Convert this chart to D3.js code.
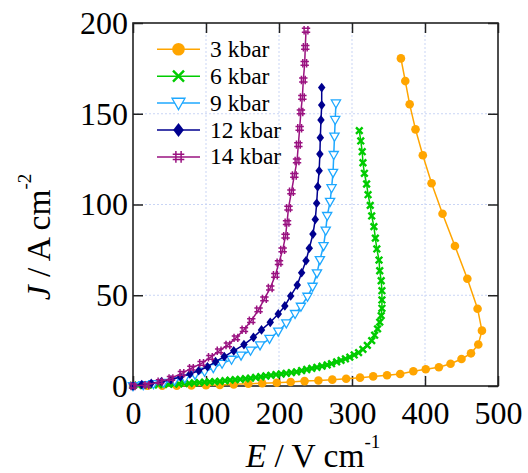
<!DOCTYPE html>
<html>
<head>
<meta charset="utf-8">
<script src="https://cdn.jsdelivr.net/npm/d3@7"></script>
<style>
    body { margin: 0; background: white; }
    svg { display: block; }
    svg text { font-family: "Liberation Serif", "Times New Roman", "DejaVu Serif", serif; }
</style>
</head>
<body>
<script>
// E (V/cm) and J (A/cm2), one pair of arrays per pressure
let seriesNames = ["3 kbar", "6 kbar", "9 kbar", "12 kbar", "14 kbar"]

let e3kbar = [0, 20, 40, 60, 80, 100, 119, 138, 158, 177, 197, 216, 235, 254, 273, 292, 311, 329, 348, 366, 384, 401, 419, 435, 450, 463, 473, 478, 472, 458, 441, 424, 409, 397, 387, 379, 373, 367]
let j3kbar = [0, 0.1, 0.2, 0.2, 0.3, 0.4, 0.6, 0.9, 1.2, 1.5, 1.8, 2.2, 2.7, 3.0, 3.5, 4.0, 4.6, 5.3, 5.9, 6.6, 8.1, 9.2, 10.3, 12.3, 14.9, 18.0, 22.9, 30.5, 42.6, 59.1, 77.1, 94.9, 111.7, 127.1, 141.4, 155.2, 168.0, 180.5]

let e6kbar = [0, 7, 14, 21, 28, 35, 42, 49, 56, 63, 70, 77, 84, 91, 98, 105, 112, 119, 126, 133, 140, 147, 154, 161, 168, 175, 182, 189, 196, 203, 210, 217, 224, 231, 238, 245, 252, 259, 266, 272, 279, 285, 291, 297, 303, 309, 315, 321, 327, 331, 335, 338, 340, 341, 341, 341, 340, 338, 337, 334, 332, 330, 327, 325, 322, 320, 317, 315, 314, 312, 310]
let j6kbar = [0.3, 0.4, 0.5, 0.6, 0.7, 0.8, 0.9, 1.0, 1.1, 1.2, 1.4, 1.5, 1.7, 1.9, 2.1, 2.3, 2.4, 2.6, 2.9, 3.2, 3.5, 3.7, 4.0, 4.3, 4.7, 5.1, 5.5, 5.9, 6.3, 6.6, 7.0, 7.4, 7.8, 8.5, 9.1, 9.7, 10.3, 10.9, 11.6, 12.3, 13.3, 14.1, 15.0, 15.9, 17.1, 18.4, 20.2, 22.4, 25.0, 28.0, 31.5, 35.2, 38.8, 42.8, 47.4, 52.5, 58.0, 63.5, 69.4, 75.5, 81.5, 87.8, 93.7, 99.5, 105.4, 111.3, 117.2, 123.0, 129.1, 135.0, 140.7]

let e9kbar = [0, 14, 28, 42, 57, 71, 85, 98, 110, 122, 135, 148, 161, 174, 187, 199, 210, 222, 230, 239, 246, 252, 256, 261, 264, 266, 270, 272, 274, 275, 276, 277, 278]
let j9kbar = [0, 0.5, 1.1, 1.8, 2.9, 4.2, 6.2, 7.9, 9.9, 12.3, 14.5, 16.8, 19.5, 22.4, 26.0, 30.0, 34.5, 39.7, 43.7, 49.2, 54.7, 62.1, 69.4, 77.1, 85.6, 93.7, 101.5, 109.0, 117.5, 127.3, 137.4, 146.6, 155.7]

let e12kbar = [0, 12, 25, 39, 52, 65, 78, 90, 102, 113, 125, 138, 152, 165, 176, 188, 199, 208, 216, 225, 231, 237, 241.5, 246.5, 249.7, 251.6, 253, 255, 256, 256.6, 257.5, 258.5, 258.5]
let j12kbar = [0, 0.8, 1.5, 2.4, 3.4, 5.0, 6.6, 8.4, 10.6, 13.4, 16.2, 19.4, 22.8, 26.8, 30.9, 35.1, 39.7, 44.1, 49.6, 55.6, 62.4, 69.0, 75.9, 83.7, 91.8, 100.7, 109.8, 118.6, 127.8, 136.8, 146.6, 154.8, 164.4]

let e14kbar = [0, 19, 37, 52, 67, 80, 94, 106, 118, 130, 141, 152, 162, 172, 180, 188, 195, 200, 205, 209, 211, 213, 217, 221, 224.7, 226.5, 228.3, 230, 232, 233.3, 235.2, 236, 237]
let j14kbar = [0, 0.5, 2.4, 4.2, 7.0, 9.8, 12.5, 15.8, 19.4, 22.6, 26.5, 31, 36, 42, 48, 54, 61, 68, 75, 82.6, 90, 98, 107, 116, 124, 133, 142, 151, 159, 168.6, 177.8, 186.6, 196]

let xTicks = [0, 100, 200, 300, 400, 500]
let yTicks = [0, 50, 100, 150, 200]

let series = [
    {name: seriesNames[0], e: e3kbar, j: j3kbar, color: "#ffa500", marker: "circle"},
    {name: seriesNames[1], e: e6kbar, j: j6kbar, color: "#00cc00", marker: "cross"},
    {name: seriesNames[2], e: e9kbar, j: j9kbar, color: "#1ea8ff", marker: "triangle"},
    {name: seriesNames[3], e: e12kbar, j: j12kbar, color: "#00008f", marker: "diamond"},
    {name: seriesNames[4], e: e14kbar, j: j14kbar, color: "#9a1280", marker: "hash"}
]

let serifFont = "'Liberation Serif', 'Times New Roman', 'DejaVu Serif', serif"

function markerPath(type, s){
    if (type == "circle") return d3.symbol(d3.symbolCircle, Math.PI * s * s)()
    if (type == "cross") return `M${-s},${-s}L${s},${s}M${-s},${s}L${s},${-s}`
    if (type == "triangle") return `M${-s},${-s * 0.75}L${s},${-s * 0.75}L0,${s}Z`
    if (type == "diamond") return `M0,${-s * 1.1}L${s * 0.85},0L0,${s * 1.1}L${-s * 0.85},0Z`
    let h = s * 0.45
    return `M${-s},${-h}H${s}M${-s},${h}H${s}M${-h},${-s}V${s}M${h},${-s}V${s}`
}

function styleMarker(sel, d){
    if (d.marker == "circle" || d.marker == "diamond") {
        sel.attr("fill", d.color).attr("stroke", "none")
    } else if (d.marker == "triangle") {
        sel.attr("fill", "white").attr("stroke", d.color).attr("stroke-width", 1.3)
    } else {
        sel.attr("fill", "none").attr("stroke", d.color).attr("stroke-width", d.marker == "cross" ? 2.4 : 1.5)
    }
}

let width = 528, height = 473
let plot = {left: 133, right: 498, top: 23, bottom: 386}

let svg = d3.select("body")
    .append("svg")
        .attr("width", width)
        .attr("height", height)
        .attr("font-family", serifFont)

let x = d3.scaleLinear()
    .domain([0, 500])
    .range([plot.left, plot.right])

let y = d3.scaleLinear()
    .domain([0, 200])
    .range([plot.bottom, plot.top])

// grid
svg.append("g")
    .selectAll("line")
    .data(xTicks.slice(1, -1))
    .enter()
    .append("line")
        .attr("x1", d => x(d)).attr("x2", d => x(d))
        .attr("y1", plot.top).attr("y2", plot.bottom)
        .attr("stroke", "#c9d5f5")
        .attr("stroke-dasharray", "2,2")

svg.append("g")
    .selectAll("line")
    .data(yTicks.slice(1, -1))
    .enter()
    .append("line")
        .attr("y1", d => y(d)).attr("y2", d => y(d))
        .attr("x1", plot.left).attr("x2", plot.right)
        .attr("stroke", "#c9d5f5")
        .attr("stroke-dasharray", "2,2")

// axes, ticks pointing inward
let xAxis = svg.append("g")
    .attr("transform", "translate(0," + plot.bottom + ")")
    .call(d3.axisBottom(x).tickValues(xTicks).tickSize(-10).tickPadding(15))
let yAxis = svg.append("g")
    .attr("transform", "translate(" + plot.left + ",0)")
    .call(d3.axisLeft(y).tickValues(yTicks).tickSize(-10).tickPadding(5))
let xTop = svg.append("g")
    .attr("transform", "translate(0," + plot.top + ")")
    .call(d3.axisTop(x).tickValues(xTicks).tickSize(-10).tickFormat(""))
let yRight = svg.append("g")
    .attr("transform", "translate(" + plot.right + ",0)")
    .call(d3.axisRight(y).tickValues(yTicks).tickSize(-10).tickFormat(""))

for (let a of [xAxis, yAxis, xTop, yRight]) {
    a.attr("font-family", serifFont)
    a.select(".domain").remove()
    a.selectAll(".tick line").attr("stroke", "#222").attr("stroke-width", 1.5)
    a.selectAll("text")
        .attr("fill", "black")
        .attr("font-family", serifFont)
        .style("font-size", "32px")
}

svg.append("rect")
    .attr("x", plot.left)
    .attr("y", plot.top)
    .attr("width", plot.right - plot.left)
    .attr("height", plot.bottom - plot.top)
    .attr("fill", "none")
    .attr("stroke", "#222")
    .attr("stroke-width", 1.6)

// curves
let line = d3.line()
    .x(d => x(d[0]))
    .y(d => y(d[1]))

series.forEach(s => {
    let pts = s.e.map((v, i) => [v, s.j[i]])
    let g = svg.append("g")
    g.append("path")
        .datum(pts)
        .attr("d", line)
        .attr("fill", "none")
        .attr("stroke", s.color)
        .attr("stroke-width", 1.5)
    let size = {circle: 4.3, cross: 3.3, triangle: 4.6, diamond: 4.4, hash: 4.2}[s.marker]
    g.selectAll("path.mk")
        .data(pts)
        .enter()
        .append("path")
            .attr("class", "mk")
            .attr("transform", d => "translate(" + x(d[0]) + "," + y(d[1]) + ")")
            .attr("d", markerPath(s.marker, size))
            .call(sel => styleMarker(sel, s))
})

// legend
let legend = svg.append("g")
series.forEach((s, i) => {
    let cy = 49.3 + i * 26.9
    legend.append("line")
        .attr("x1", 157).attr("x2", 200)
        .attr("y1", cy).attr("y2", cy)
        .attr("stroke", s.color)
        .attr("stroke-width", 1.5)
    let size = {circle: 6.3, cross: 5.5, triangle: 6.5, diamond: 6.3, hash: 5.8}[s.marker]
    legend.append("path")
        .attr("transform", "translate(178.5," + cy + ")")
        .attr("d", markerPath(s.marker, size))
        .call(sel => styleMarker(sel, s))
    legend.append("text")
        .attr("x", 210)
        .attr("y", cy + 7.5)
        .attr("font-family", serifFont)
        .style("font-size", "23.5px")
        .text(s.name)
})

//Adding axis labels
let xLabel = svg.append("text")
    .attr("x", 313)
    .attr("y", 467)
    .attr("text-anchor", "middle")
    .attr("font-family", serifFont)
    .style("font-size", "33.5px")
xLabel.append("tspan").style("font-style", "italic").text("E")
xLabel.append("tspan").text(" / V cm")
xLabel.append("tspan").attr("dy", -19).style("font-size", "19px").text("-1")

let yLabel = svg.append("text")
    .attr("transform", "translate(50,237) rotate(-90)")
    .attr("text-anchor", "middle")
    .attr("font-family", serifFont)
    .style("font-size", "33.5px")
yLabel.append("tspan").style("font-style", "italic").text("J")
yLabel.append("tspan").text(" / A cm")
yLabel.append("tspan").attr("dy", -19).style("font-size", "19px").text("-2")
</script>
</body>
</html>
